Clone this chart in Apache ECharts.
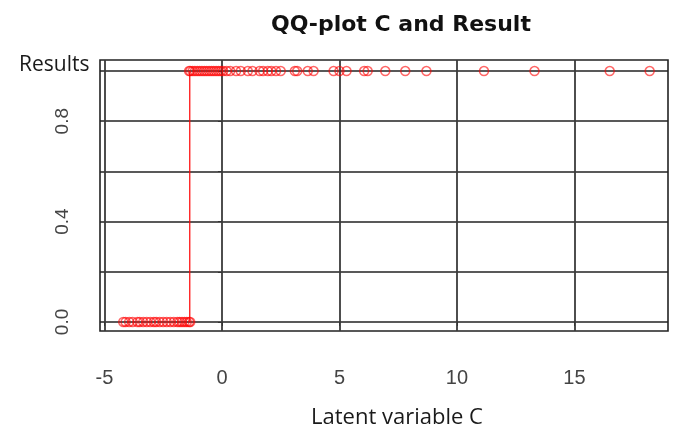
<!DOCTYPE html>
<html>
<head>
<meta charset="utf-8">
<script src="https://cdn.jsdelivr.net/npm/echarts@6/dist/echarts.min.js"></script>
<style>html,body{margin:0;padding:0;background:#fff}#c{width:678px;height:434px}</style>
</head>
<body>
<div id="c"></div>
<script>
// Latent variable C values for observations with Result = 1
var cResult1 = [-1.40, -1.35, -1.25, -1.15, -1.05, -0.95, -0.85, -0.75, -0.65, -0.55, -0.45, -0.35, -0.25, -0.15, -0.05, 0.05, 0.2, 0.35, 0.6, 0.8, 1.1, 1.3, 1.6, 1.75, 1.95, 2.1, 2.3, 2.5, 3.1, 3.2, 3.65, 3.9, 4.75, 5.0, 5.3, 6.05, 6.2, 6.95, 7.8, 8.7, 11.15, 13.3, 16.5, 18.2];
// Latent variable C values for observations with Result = 0
var cResult0 = [-4.2, -4.1, -3.95, -3.8, -3.6, -3.5, -3.35, -3.2, -3.05, -2.9, -2.8, -2.65, -2.5, -2.35, -2.2, -2.05, -1.9, -1.8, -1.7, -1.6, -1.5, -1.4, -1.35];
// step threshold
var threshold = -1.37;
var xTicks = [-5, 0, 5, 10, 15];
var yTicks = [0, 0.2, 0.4, 0.6, 0.8, 1.0];
var yLabels = [0, 0.4, 0.8];

var chart = echarts.init(document.getElementById('c'));
var pts = cResult1.map(function (v) { return [v, 1]; }).concat(cResult0.map(function (v) { return [v, 0]; }));
chart.setOption({
  animation: false,
  backgroundColor: '#fff',
  title: [
    { text: 'QQ-plot C and Result', left: 266, top: 9,
      textStyle: { fontFamily: 'DejaVu Sans', fontWeight: 'bold', fontSize: 22, color: '#111' } },
    { text: 'Results', left: 14, top: 50,
      textStyle: { fontFamily: 'Open Sans, Lato, sans-serif', fontWeight: 'normal', fontSize: 21, color: '#1a1a1a' } },
    { text: 'Latent variable C', left: 306, top: 402,
      textStyle: { fontFamily: 'Open Sans, Lato, sans-serif', fontWeight: 'normal', fontSize: 22, color: '#1a1a1a' } }
  ],
  grid: { left: 100, right: 10, top: 60, bottom: 103, show: true, borderColor: '#222', borderWidth: 1.6, backgroundColor: 'transparent' },
  xAxis: {
    type: 'value', min: -5.19, max: 18.98,
    axisLine: { show: false },
    axisTick: { show: true, customValues: xTicks, length: 4, lineStyle: { color: '#333' } },
    axisLabel: { customValues: xTicks, margin: 37, fontFamily: 'Liberation Sans, Arial', fontSize: 20, color: '#444' },
    splitLine: { show: true, lineStyle: { color: '#3a3a3a', width: 1.8 } }
  },
  yAxis: {
    type: 'value', min: -0.036, max: 1.044,
    axisLine: { show: false },
    axisTick: { show: true, customValues: yTicks, length: 4, lineStyle: { color: '#333' } },
    axisLabel: { customValues: yLabels, rotate: 90, margin: 28, fontFamily: 'Liberation Sans, Arial', fontSize: 19, color: '#444',
      formatter: function (v) { return v.toFixed(1); } },
    splitLine: { show: true, lineStyle: { color: '#222', width: 1.5 } }
  },
  series: [
    { type: 'line', data: [[threshold, 0], [threshold, 1]], symbol: 'none', z: 3,
      itemStyle: { color: '#ff0000' },
      lineStyle: { color: '#ff0000', width: 1.2 }, silent: true },
    { type: 'scatter', data: pts, symbol: 'circle', symbolSize: 9, z: 4,
      itemStyle: { color: 'transparent', borderColor: 'rgba(255,0,0,0.75)', borderWidth: 1.5 } }
  ]
});
</script>
</body>
</html>
